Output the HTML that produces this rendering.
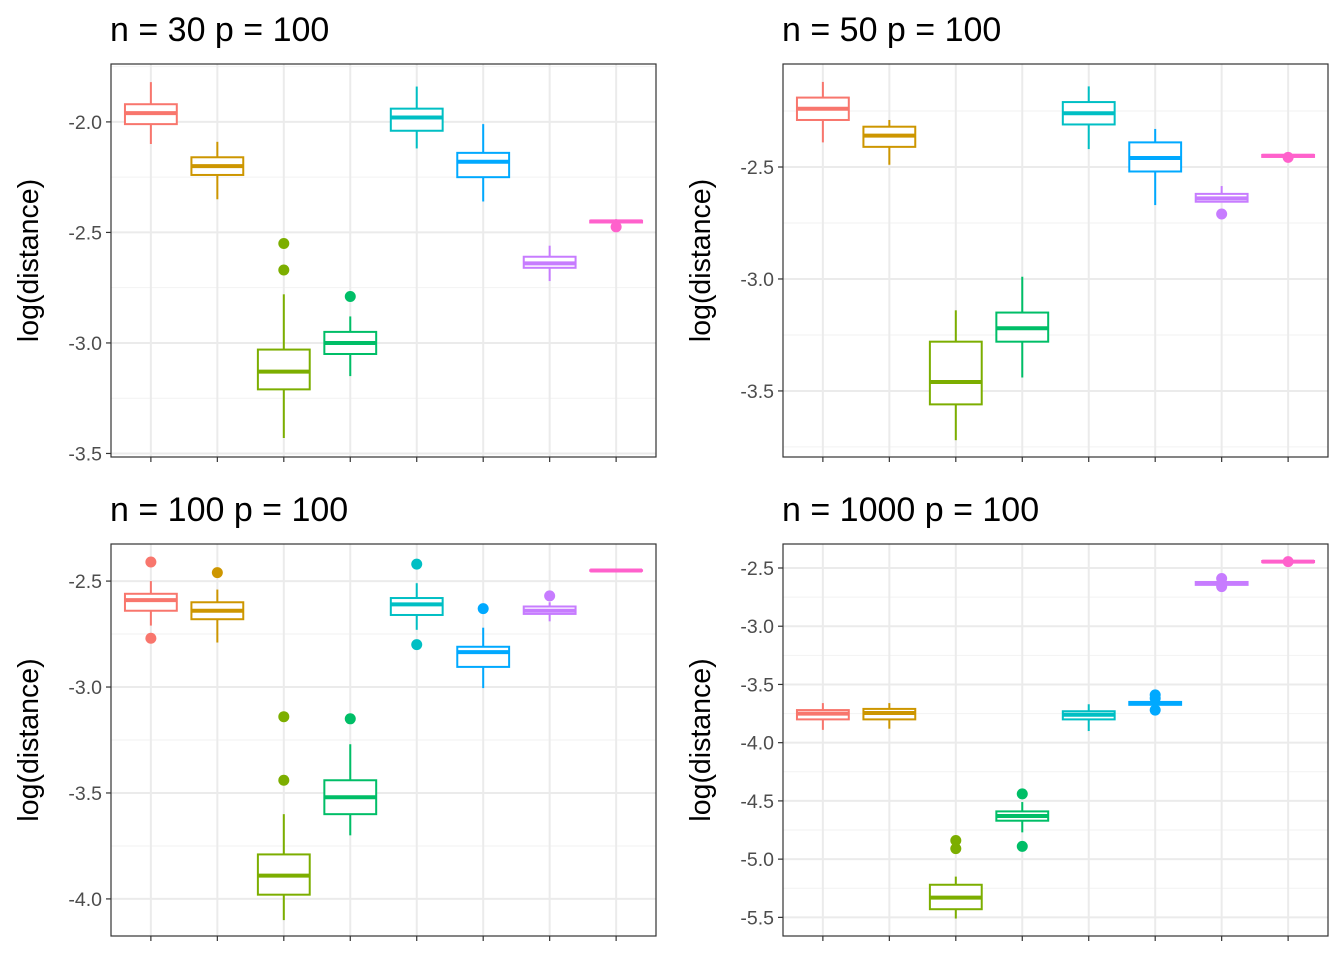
<!DOCTYPE html>
<html><head><meta charset="utf-8">
<style>
html,body{margin:0;padding:0;background:#fff;}
svg text{font-family:"Liberation Sans",Arial,sans-serif;}
</style></head>
<body>
<svg id="chart" width="1344" height="960" viewBox="0 0 1344 960" xmlns="http://www.w3.org/2000/svg"></svg>
<script>
// Data: each box = [lowWhisker, q1, median, q3, highWhisker]
const colors = ["#F8766D","#CD9600","#7CAE00","#00BE67","#00BFC4","#00A9FF","#C77CFF","#FF61CC"];
const titles = ["n = 30 p = 100","n = 50 p = 100","n = 100 p = 100","n = 1000 p = 100"];
const boxes30 = [[-2.10,-2.01,-1.96,-1.92,-1.82],[-2.35,-2.24,-2.20,-2.16,-2.09],[-3.43,-3.21,-3.13,-3.03,-2.78],[-3.15,-3.05,-3.00,-2.95,-2.88],[-2.12,-2.04,-1.98,-1.94,-1.84],[-2.36,-2.25,-2.18,-2.14,-2.01],[-2.72,-2.66,-2.64,-2.61,-2.56],[-2.465,-2.455,-2.45,-2.447,-2.44]];
const out30 = [[],[],[-2.55,-2.67],[-2.79],[],[],[],[-2.475]];
const boxes50 = [[-2.39,-2.29,-2.24,-2.19,-2.12],[-2.49,-2.41,-2.36,-2.32,-2.29],[-3.72,-3.56,-3.46,-3.28,-3.14],[-3.44,-3.28,-3.22,-3.15,-2.99],[-2.42,-2.31,-2.26,-2.21,-2.14],[-2.67,-2.52,-2.46,-2.39,-2.33],[-2.655,-2.655,-2.64,-2.62,-2.585],[-2.46,-2.455,-2.45,-2.446,-2.446]];
const out50 = [[],[],[],[],[],[],[-2.71],[-2.457]];
const boxes100 = [[-2.71,-2.64,-2.59,-2.56,-2.50],[-2.79,-2.68,-2.64,-2.60,-2.54],[-4.10,-3.98,-3.89,-3.79,-3.60],[-3.70,-3.60,-3.52,-3.44,-3.27],[-2.73,-2.66,-2.61,-2.58,-2.51],[-3.005,-2.905,-2.835,-2.81,-2.72],[-2.69,-2.655,-2.64,-2.62,-2.60],[-2.452,-2.451,-2.45,-2.449,-2.448]];
const out100 = [[-2.41,-2.77],[-2.46],[-3.14,-3.44],[-3.15],[-2.42,-2.80],[-2.63],[-2.57],[]];
const boxes1000 = [[-3.89,-3.80,-3.75,-3.72,-3.66],[-3.88,-3.80,-3.745,-3.71,-3.66],[-5.51,-5.43,-5.33,-5.22,-5.15],[-4.77,-4.67,-4.63,-4.59,-4.51],[-3.90,-3.80,-3.76,-3.73,-3.67],[-3.685,-3.675,-3.66,-3.65,-3.645],[-2.65,-2.645,-2.63,-2.62,-2.61],[-2.455,-2.45,-2.445,-2.44,-2.435]];
const out1000 = [[],[],[-4.84,-4.91],[-4.44,-4.89],[],[-3.59,-3.62,-3.72],[-2.59,-2.66],[-2.445]];
const ticks30 = [-2.0,-2.5,-3.0,-3.5];
const ticks50 = [-2.5,-3.0,-3.5];
const ticks100 = [-2.5,-3.0,-3.5,-4.0];
const ticks1000 = [-2.5,-3.0,-3.5,-4.0,-4.5,-5.0,-5.5];

const NS="http://www.w3.org/2000/svg";
const svg=document.getElementById('chart');
function mk(tag,attrs,parent){const e=document.createElementNS(NS,tag);for(const k in attrs)e.setAttribute(k,attrs[k]);(parent||svg).appendChild(e);return e;}

const panels=[
 {x0:111,x1:656,y0:64,y1:457,dmin:-3.516,dmax:-1.738,boxes:boxes30,outs:out30,ticks:ticks30,step:0.5},
 {x0:783,x1:1328,y0:64,y1:457,dmin:-3.795,dmax:-2.040,boxes:boxes50,outs:out50,ticks:ticks50,step:0.5},
 {x0:111,x1:656,y0:544,y1:936,dmin:-4.175,dmax:-2.325,boxes:boxes100,outs:out100,ticks:ticks100,step:0.5},
 {x0:783,x1:1328,y0:544,y1:936,dmin:-5.660,dmax:-2.294,boxes:boxes1000,outs:out1000,ticks:ticks1000,step:0.5}
];

panels.forEach((p,pi)=>{
  const g=mk('g',{});
  
  
  const y=v=>p.y1-(v-p.dmin)/(p.dmax-p.dmin)*(p.y1-p.y0);
  const bw=(p.x1-p.x0)/8.2;
  const x=i=>p.x0+(i+0.6)*bw;
  // minor grid
  const minors=p.ticks.map(t=>t+p.step/2).concat([p.ticks[p.ticks.length-1]-p.step/2]);
  minors.forEach(m=>{if(m>p.dmin&&m<p.dmax){mk('line',{x1:p.x0,x2:p.x1,y1:y(m),y2:y(m),stroke:'#F2F2F2','stroke-width':1},g);}});
  // major grid
  p.ticks.forEach(t=>{mk('line',{x1:p.x0,x2:p.x1,y1:y(t),y2:y(t),stroke:'#EBEBEB','stroke-width':2},g);});
  for(let i=0;i<8;i++){mk('line',{x1:x(i),x2:x(i),y1:p.y0,y2:p.y1,stroke:'#EBEBEB','stroke-width':2},g);}
  // boxes
  p.boxes.forEach((b,i)=>{
    const c=colors[i];const cx=x(i);const hw=bw*0.39;
    const bg=mk('g',{},g);
    
    
    mk('line',{x1:cx,x2:cx,y1:y(b[0]),y2:y(b[1]),stroke:c,'stroke-width':2},bg);
    mk('line',{x1:cx,x2:cx,y1:y(b[3]),y2:y(b[4]),stroke:c,'stroke-width':2},bg);
    mk('rect',{x:cx-hw,y:y(b[3]),width:2*hw,height:Math.max(0.5,y(b[1])-y(b[3])),fill:'#fff',stroke:c,'stroke-width':2},bg);
    mk('line',{x1:cx-hw,x2:cx+hw,y1:y(b[2]),y2:y(b[2]),stroke:c,'stroke-width':4},bg);
    p.outs[i].forEach(o=>{const d=mk('circle',{cx:cx,cy:y(o),r:5.5,fill:c},bg);
      
      });
  });
  // border
  mk('rect',{x:p.x0,y:p.y0,width:p.x1-p.x0,height:p.y1-p.y0,fill:'none',stroke:'#333','stroke-width':1.2},g);
  // ticks + labels
  p.ticks.forEach(t=>{
    mk('line',{x1:p.x0-5,x2:p.x0,y1:y(t),y2:y(t),stroke:'#333','stroke-width':1.2},g);
    const tx=mk('text',{x:p.x0-9,y:y(t)+7,'text-anchor':'end','font-size':19.5,fill:'#4D4D4D'},g);
    tx.textContent=t.toFixed(1);
    
    
  });
  for(let i=0;i<8;i++){mk('line',{x1:x(i),x2:x(i),y1:p.y1,y2:p.y1+5,stroke:'#333','stroke-width':1.2},g);}
  const ti=mk('text',{x:p.x0-1,y:p.y0-23,'font-size':34,fill:'#000'},g);
  ti.textContent=titles[pi];
  
  
  const cy=(p.y0+p.y1)/2;
  const ax=p.x0-73;
  const ya=mk('text',{x:ax,y:cy,'font-size':28.5,fill:'#000','text-anchor':'middle',transform:`rotate(-90 ${ax} ${cy})`},g);
  ya.textContent='log(distance)';
  
  
});
</script>
</body></html>
